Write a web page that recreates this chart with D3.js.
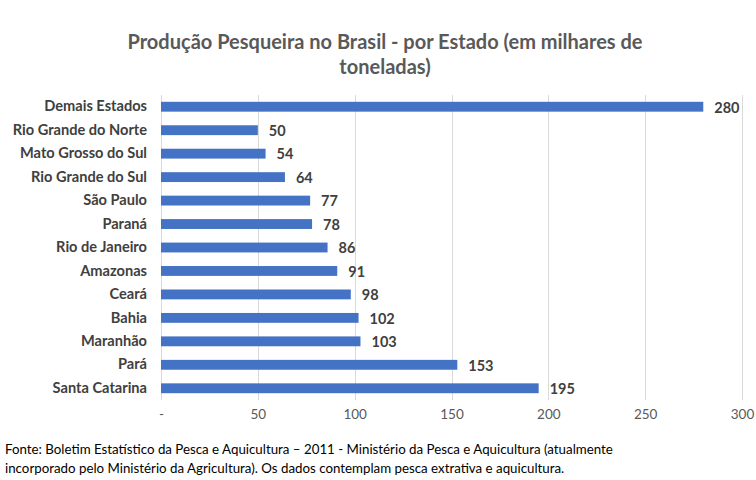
<!DOCTYPE html>
<html>
<head>
<meta charset="utf-8">
<title></title>
<style type="text/css">
    html, body { margin: 0; padding: 0; background: #fff; }
    text { font-family: Lato, "Open Sans", sans-serif; }
</style>
</head>
<body>
<svg id="svg" width="756" height="480"></svg>
<script src="https://cdn.jsdelivr.net/npm/d3@7"></script>
<script type="text/javascript">
    var estados = ['Demais Estados', 'Rio Grande do Norte', 'Mato Grosso do Sul', 'Rio Grande do Sul',
        'São Paulo', 'Paraná', 'Rio de Janeiro', 'Amazonas', 'Ceará', 'Bahia', 'Maranhão', 'Pará', 'Santa Catarina'];
    var producao = [280, 50, 54, 64, 77, 78, 86, 91, 98, 102, 103, 153, 195];
    var ticks = [0, 50, 100, 150, 200, 250, 300];
    var titulo = ['Produção Pesqueira no Brasil - por Estado (em milhares de', 'toneladas)'];
    var fonte = ['Fonte: Boletim Estatístico da Pesca e Aquicultura – 2011 - Ministério da Pesca e Aquicultura (atualmente',
        'incorporado pelo Ministério da Agricultura).  Os dados contemplam pesca extrativa e aquicultura.'];

    var svg = d3.select('#svg');

    var mLeft = 161, mRight = 742, mTop = 95, mBottom = 400;

    var x = d3.scaleLinear().domain([0, 300]).range([mLeft, mRight]);
    var y = d3.scaleBand().domain(estados).range([mTop, mBottom]).paddingInner(0.58).paddingOuter(0.29);

    // grade
    svg.append('g')
        .selectAll('line')
        .data(ticks)
        .enter()
        .append('line')
        .attr('x1', (d) => Math.round(x(d)) + 0.5)
        .attr('x2', (d) => Math.round(x(d)) + 0.5)
        .attr('y1', mTop)
        .attr('y2', mBottom)
        .attr('stroke', '#d9d9d9')
        .attr('stroke-width', 1);

    // eixo x
    var xAxis = svg.append('g')
        .attr('transform', 'translate(0,' + mBottom + ')')
        .call(d3.axisBottom(x).tickValues(ticks).tickSize(0).tickPadding(9)
            .tickFormat((d) => d === 0 ? '-' : d));
    xAxis.select('.domain').remove();
    xAxis.selectAll('text')
        .attr('fill', '#595959')
        .style('font-size', '13.5px');

    // eixo y
    var yAxis = svg.append('g')
        .attr('transform', 'translate(' + mLeft + ',0)')
        .call(d3.axisLeft(y).tickSize(0).tickPadding(14));
    yAxis.select('.domain').remove();
    yAxis.selectAll('text')
        .attr('fill', '#404040')
        .style('font-size', '14.6px')
        .style('font-weight', 'bold');

    // barras
    var g = svg.append('g')
        .selectAll('g')
        .data(estados)
        .enter()
        .append('g');
    g.append('rect')
        .attr('x', x(0))
        .attr('y', (d) => y(d))
        .attr('width', (d, i) => x(producao[i]) - x(0))
        .attr('height', y.bandwidth())
        .attr('fill', '#4472c4');
    g.append('text')
        .text((d, i) => producao[i])
        .attr('x', (d, i) => x(producao[i]) + 11)
        .attr('y', (d) => y(d) + y.bandwidth() / 2)
        .attr('dy', '0.4em')
        .attr('fill', '#404040')
        .style('font-size', '14.5px')
        .style('font-weight', 'bold');

    // titulo
    svg.append('g')
        .selectAll('text')
        .data(titulo)
        .enter()
        .append('text')
        .text((d) => d)
        .attr('x', 385)
        .attr('y', (d, i) => 49 + i * 25)
        .attr('text-anchor', 'middle')
        .attr('fill', '#595959')
        .style('font-size', '20px')
        .style('font-weight', 'bold');

    // fonte
    svg.append('g')
        .selectAll('text')
        .data(fonte)
        .enter()
        .append('text')
        .text((d) => d)
        .attr('x', 5)
        .attr('y', (d, i) => 454 + i * 19)
        .attr('fill', '#000')
        .style('font-size', '13.3px');
</script>
</body>
</html>
